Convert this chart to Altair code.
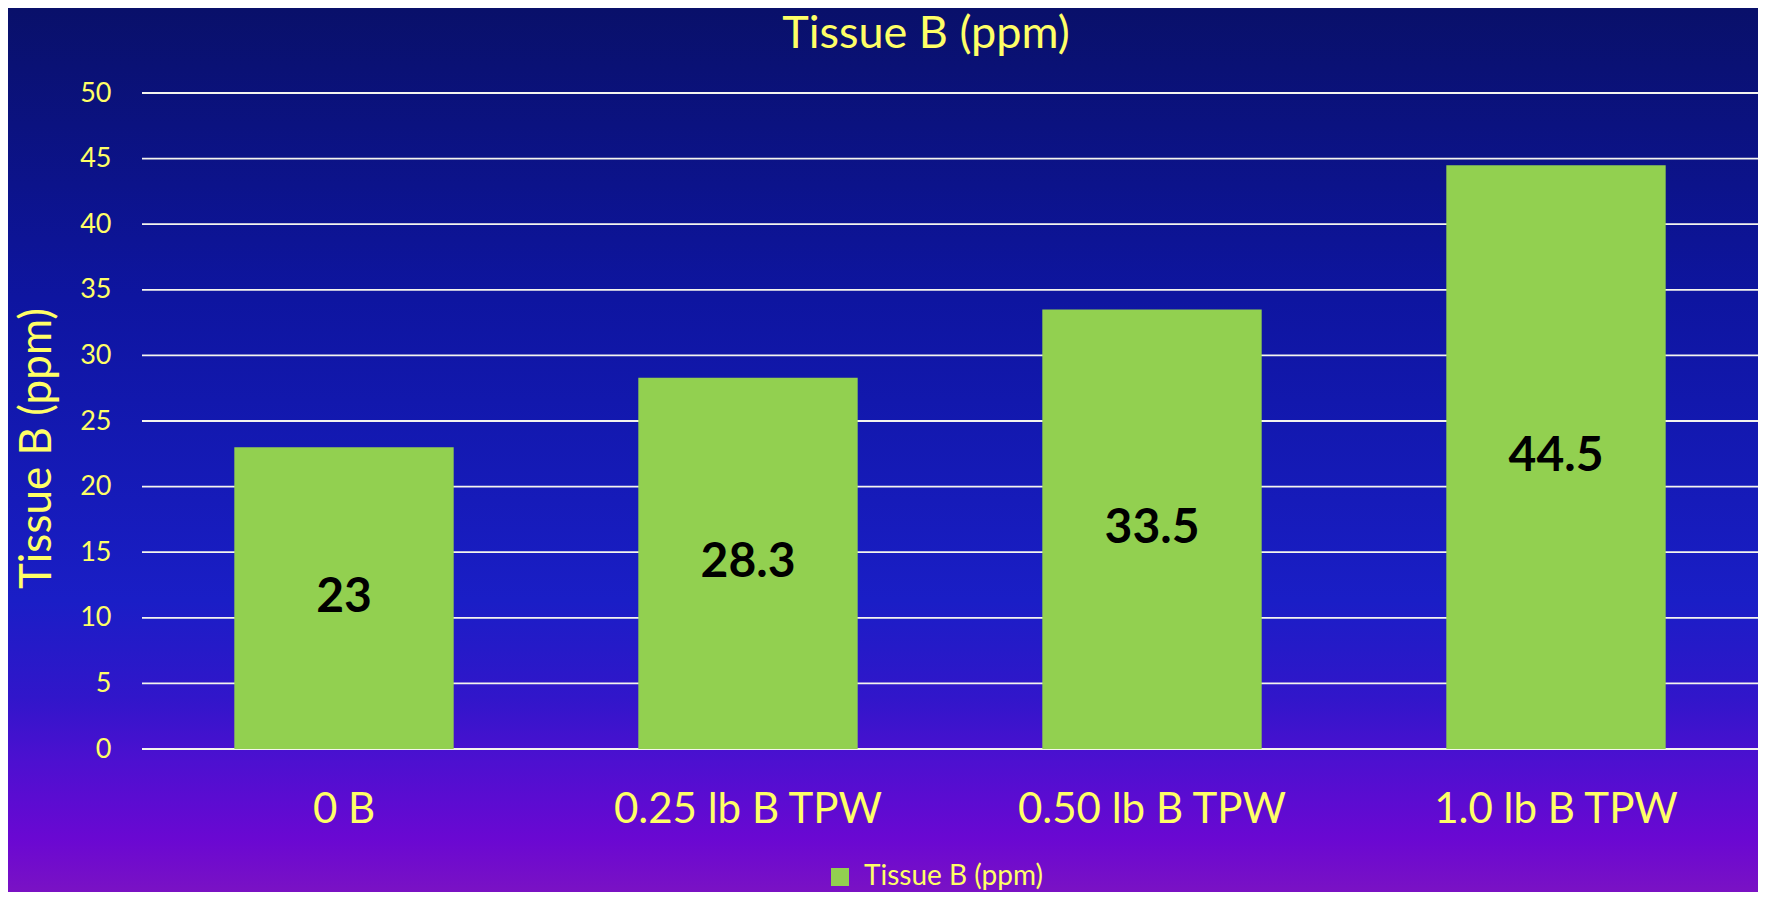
import altair as alt
import pandas as pd

# ---- data ----
categories = ["0 B", "0.25 lb B TPW", "0.50 lb B TPW", "1.0 lb B TPW"]
values = [23, 28.3, 33.5, 44.5]
series_name = "Tissue B (ppm)"
y_ticks = [0, 5, 10, 15, 20, 25, 30, 35, 40, 45, 50]

YELLOW = "#ffff66"
GREEN = "#92d050"
FONT = "Lato"

W, H = 1616, 656
PAD_L, PAD_T, PAD_R, PAD_B = 134, 85, 0, 143

df = pd.DataFrame({"cat": categories, "value": values, "series": [series_name] * len(values)})
grid_df = pd.DataFrame({"tick": y_ticks})
bg_df = pd.DataFrame({"k": [0]})

gradient = alt.LinearGradient(
    gradient="linear",
    x1=0, x2=0, y1=0, y2=1,
    stops=[
        alt.GradientStop(color="#09106a", offset=0.0),
        alt.GradientStop(color="#0e15a0", offset=0.33),
        alt.GradientStop(color="#1a1ec6", offset=0.67),
        alt.GradientStop(color="#3116ca", offset=0.78),
        alt.GradientStop(color="#4c10d0", offset=0.85),
        alt.GradientStop(color="#6a08d2", offset=0.94),
        alt.GradientStop(color="#7a12c4", offset=1.0),
    ],
)

background = alt.Chart(bg_df).mark_rect(color=gradient).encode(
    x=alt.value(-PAD_L), x2=alt.value(W + PAD_R),
    y=alt.value(-PAD_T), y2=alt.value(H + PAD_B),
)

y_scale = alt.Scale(domain=[0, 50], nice=False)

y_axis = alt.Axis(
    values=y_ticks, title=series_name,
    labelFont=FONT, labelFontSize=27, labelColor=YELLOW, labelPadding=31,
    ticks=False, tickSize=0, domain=False, grid=False,
    titleFont=FONT, titleFontSize=44, titleColor=YELLOW, titleFontWeight="normal",
    titleAngle=270, titleX=-105, titleY=355, titleAlign="center", titleBaseline="middle",
    zindex=1,
)

gridlines = alt.Chart(grid_df).mark_rule(color="#f4f4ee", strokeWidth=1.8).encode(
    y=alt.Y("tick:Q", scale=y_scale, axis=y_axis),
)

x_enc = alt.X(
    "cat:N",
    sort=categories,
    scale=alt.Scale(paddingInner=0.457, paddingOuter=0.2285),
    axis=alt.Axis(
        title=None, labelAngle=0, labelFont=FONT, labelFontSize=42,
        labelColor=YELLOW, labelPadding=60, labelBaseline="middle", labelLimit=0,
        ticks=False, tickSize=0, domain=False, grid=False, zindex=1,
    ),
)

bars = alt.Chart(df).mark_bar().encode(
    x=x_enc,
    y=alt.Y("value:Q", scale=y_scale, axis=y_axis),
    color=alt.Color(
        "series:N",
        scale=alt.Scale(domain=[series_name], range=[GREEN]),
        legend=alt.Legend(
            title=None, orient="none", legendX=684, legendY=770,
            symbolType="square", symbolSize=324, symbolStrokeWidth=0,
            labelFont=FONT, labelFontSize=28, labelColor=YELLOW, labelOffset=10,
            labelLimit=0, padding=0, zindex=1,
        ),
    ),
)

labels = alt.Chart(df).transform_calculate(mid="datum.value / 2").mark_text(
    font=FONT, fontWeight="bold", fontSize=48, color="black", baseline="middle",
).encode(
    x=alt.X("cat:N", sort=categories),
    y=alt.Y("mid:Q", scale=y_scale),
    text=alt.Text("value:Q"),
)

chart = alt.layer(background, gridlines, bars, labels).properties(
    width=W, height=H,
    title=alt.TitleParams(
        series_name, font=FONT, fontSize=45, fontWeight="normal", color=YELLOW,
        anchor="middle", dx=-24, offset=-49,
    ),
    autosize=alt.AutoSizeParams(type="none"),
    padding={"left": PAD_L, "top": PAD_T, "right": PAD_R, "bottom": PAD_B},
).configure(background="#0e15a0").configure_view(stroke=None)

chart.save("out.html", embed_options={"renderer": "svg", "actions": False})
